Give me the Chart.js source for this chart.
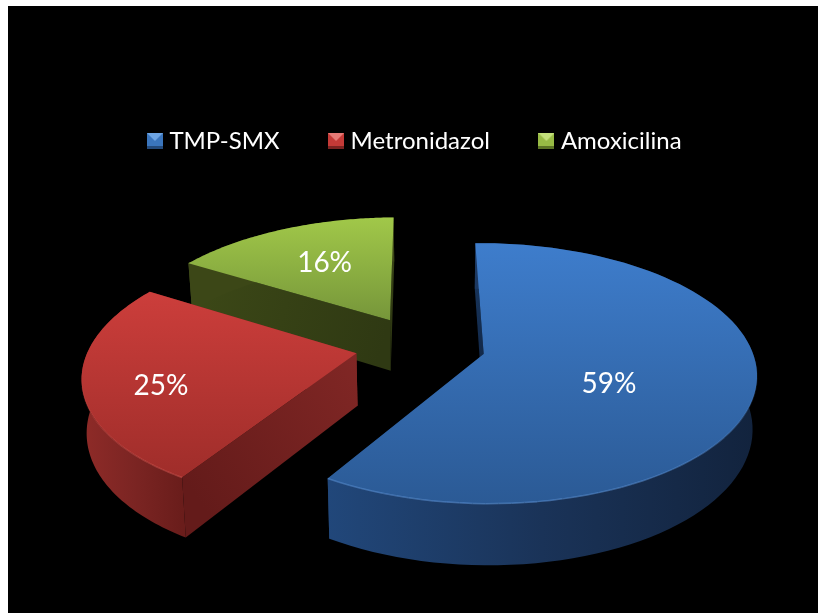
<!DOCTYPE html>
<html>
<head>
<meta charset="utf-8">
<title>Antibióticos</title>
<script src="https://cdn.jsdelivr.net/npm/chart.js@4/dist/chart.umd.min.js"></script>
<style>
  html, body { margin: 0; background: #fff; overflow: hidden; }
  #chart { position: absolute; left: 8px; top: 6px; background: #000; }
</style>
</head>
<body>
<canvas id="chart" width="810" height="607"></canvas>
<script>
var categories = ["TMP-SMX", "Metronidazol", "Amoxicilina"];
var values = [59, 25, 16];

// colores de cada porcion
var topColors = [["#3e7dcc", "#2b5a95"], ["#cc3e3b", "#9f2d2a"], ["#a1c849", "#76963a"]];
var arcWallColors = [["#21477a", "#1a3358", "#12233d"], ["#8f2b28", "#7c2523", "#6a1d1b"], ["#3c4717", "#3c4717", "#3c4717"]];
var edgeWallColors = [["#12294a", "#1a3a63"], ["#812725", "#641b1a"], ["#2f3913", "#3d4917"]];
var rimColors = ["#5c92d6", "#dc5a55", "#b2d45c"];
var markerColors = [["#6ea5e4", "#3a75bd", "#234a7c"], ["#e77a76", "#c43a37", "#7c2321"], ["#c3e07a", "#98bb45", "#5c7425"]];

// vista 3D de la tarta (en px del canvas)
var view = { cx: 412.5, cy: 340, rx: 267, ry: 125, persp: 0.147, eyeShift: 30, depth: 52, explode: 0.244, nadirX: 432, lean: 0.014 };
// posicion de las etiquetas: radio y giro respecto al centro de la porcion
var labelRadius = [0.5, 0.73, 0.6];
var labelTurn = [12, -6.5, 1];

function project(plane) {
  var s = 1 / (1 - view.persp * plane.v);
  return {
    x: view.cx + view.rx * plane.u * s - view.eyeShift * (s - 1),
    y: view.cy + view.ry * plane.v * s,
    s: s,
  };
}

function lower(p) {
  return { x: p.x - (p.x - view.nadirX) * view.lean, y: p.y + view.depth * p.s };
}

function planePoint(mid, angle, r) {
  return {
    u: view.explode * Math.cos(mid) + r * Math.cos(angle),
    v: view.explode * Math.sin(mid) + r * Math.sin(angle),
  };
}

function tracePath(ctx, pts) {
  ctx.beginPath();
  pts.forEach(function (p, i) {
    if (i === 0) ctx.moveTo(p.x, p.y);
    else ctx.lineTo(p.x, p.y);
  });
  ctx.closePath();
}

function gradient(ctx, x0, y0, x1, y1, colors) {
  var g = ctx.createLinearGradient(x0, y0, x1, y1);
  colors.forEach(function (c, i) {
    g.addColorStop(i / (colors.length - 1), c);
  });
  return g;
}

// Dibuja cada porcion a partir de los angulos que calcula Chart.js
var pie3d = {
  id: "pie3d",
  beforeDatasetsDraw: function (chart) {
    var ctx = chart.ctx;
    var arcs = chart.getDatasetMeta(0).data;
    ctx.save();
    for (var i = arcs.length - 1; i >= 0; i--) {
      drawSlice(ctx, arcs[i], i);
    }
    for (var j = 0; j < arcs.length; j++) {
      var mid = (arcs[j].startAngle + arcs[j].endAngle) / 2;
      var turn = mid + (labelTurn[j] * Math.PI) / 180;
      var c = project(planePoint(mid, turn, labelRadius[j]));
      ctx.fillStyle = "#fff";
      ctx.font = "28px Lato";
      ctx.textAlign = "center";
      ctx.textBaseline = "middle";
      ctx.fillText(values[j] + "%", c.x, c.y);
    }
    ctx.restore();
    return false;
  },
};

function drawSlice(ctx, arc, i) {
  var mid = (arc.startAngle + arc.endAngle) / 2;
  var steps = 90;
  var rim = [];
  for (var n = 0; n <= steps; n++) {
    var a = arc.startAngle + ((arc.endAngle - arc.startAngle) * n) / steps;
    var pt = project(planePoint(mid, a, 1));
    pt.a = a;
    rim.push(pt);
  }
  var tip = project(planePoint(mid, mid, 0));
  var first = rim[0];
  var last = rim[rim.length - 1];

  // paredes radiales
  [last, first].forEach(function (end) {
    var e = lower(end);
    var t = lower(tip);
    ctx.fillStyle = gradient(ctx, tip.x, tip.y, end.x, end.y, edgeWallColors[i]);
    tracePath(ctx, [tip, end, e, t]);
    ctx.fill();
  });

  // pared exterior
  var xs = rim.map(function (p) { return p.x; });
  var minX = Math.min.apply(null, xs);
  var maxX = Math.max.apply(null, xs);
  ctx.fillStyle = gradient(ctx, minX, 0, maxX, 0, arcWallColors[i]);
  tracePath(ctx, rim.concat(rim.map(lower).reverse()));
  ctx.fill();

  // cara superior
  var ys = rim.map(function (p) { return p.y; }).concat([tip.y]);
  ctx.fillStyle = gradient(ctx, 0, Math.min.apply(null, ys), 0, Math.max.apply(null, ys), topColors[i]);
  tracePath(ctx, [tip].concat(rim));
  ctx.fill();

  // brillo del borde delantero
  ctx.strokeStyle = rimColors[i];
  ctx.lineWidth = 1.5;
  for (var m = 1; m < rim.length; m++) {
    var alpha = Math.sin(rim[m].a);
    if (alpha <= 0) continue;
    ctx.globalAlpha = alpha * 0.6;
    ctx.beginPath();
    ctx.moveTo(rim[m - 1].x, rim[m - 1].y);
    ctx.lineTo(rim[m].x, rim[m].y);
    ctx.stroke();
  }
  ctx.globalAlpha = 1;
}

function makeMarker(colors) {
  var size = 16;
  var c = document.createElement("canvas");
  c.width = size;
  c.height = size;
  var g = c.getContext("2d");
  g.fillStyle = colors[1];
  g.fillRect(0, 0, size, size);
  g.fillStyle = colors[2];
  g.fillRect(0, size - 3, size, 3);
  g.fillStyle = colors[0];
  g.beginPath();
  g.moveTo(0, 0);
  g.lineTo(size, 0);
  g.lineTo(size / 2, size / 2);
  g.closePath();
  g.fill();
  return c;
}

var markers = markerColors.map(makeMarker);

var ctx1 = document.getElementById("chart").getContext("2d");
var myChart = new Chart(ctx1, {
  type: "pie",
  data: {
    labels: categories,
    datasets: [{ data: values, backgroundColor: topColors.map(function (c) { return c[0]; }), borderWidth: 0 }],
  },
  plugins: [pie3d],
  options: {
    responsive: false,
    animation: false,
    devicePixelRatio: 1,
    rotation: -1,
    layout: { padding: { top: 69, left: 8 } },
    plugins: {
      tooltip: { enabled: false },
      legend: {
        position: "top",
        labels: {
          usePointStyle: true,
          boxWidth: 5,
          padding: 54,
          color: "#fff",
          font: { family: "Lato", size: 24 },
          generateLabels: function () {
            return categories.map(function (name, i) {
              return { text: name, fontColor: "#fff", pointStyle: markers[i], hidden: false, index: i, lineWidth: 0 };
            });
          },
        },
      },
    },
  },
});
</script>
</body>
</html>
